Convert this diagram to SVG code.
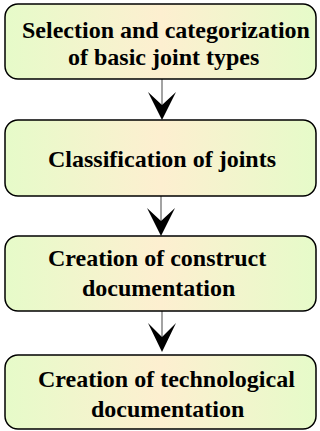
<svg xmlns="http://www.w3.org/2000/svg" width="320" height="431" viewBox="0 0 320 431">
<style>
.box{stroke:#000;stroke-width:1.5;fill:url(#g)}
.t{font-family:"Liberation Serif","Times New Roman",serif;font-weight:bold;font-size:24px;fill:#000}
.c{stroke:#666;stroke-width:1.2;fill:none}
.h{fill:#000;stroke:none}
</style>
<defs>
<linearGradient id="g" x1="0" y1="0" x2="1" y2="0">
<stop offset="0" stop-color="#e6fbc9"/>
<stop offset="0.5" stop-color="#fdefd0"/>
<stop offset="1" stop-color="#e6fbc9"/>
</linearGradient>
</defs>
<g id="connectors">
<line class="c" x1="162" y1="79" x2="162" y2="112"/>
<path class="h" d="M162,120 L148,92 L162,105 L176,92 Z"/>
<line class="c" x1="161" y1="196" x2="161" y2="228"/>
<path class="h" d="M161,236 L147,208 L161,221 L175,208 Z"/>
<line class="c" x1="162" y1="311" x2="162" y2="344"/>
<path class="h" d="M162,352 L148,323 L162,337 L176,323 Z"/>
</g>
<g id="n1">
<rect class="box" x="5" y="4" width="311" height="75" rx="13"/>
<text class="t" x="22" y="38">Selection and categorization</text>
<text class="t" x="68" y="65">of basic joint types</text>
</g>
<g id="n2">
<rect class="box" x="5" y="120" width="311" height="76" rx="13"/>
<text class="t" x="48" y="167">Classification of joints</text>
</g>
<g id="n3">
<rect class="box" x="5" y="236" width="311" height="75" rx="13"/>
<text class="t" x="48" y="265.5">Creation of construct</text>
<text class="t" x="82" y="295.5">documentation</text>
</g>
<g id="n4">
<rect class="box" x="5" y="355" width="311" height="74" rx="13"/>
<text class="t" x="38" y="386.5">Creation of technological</text>
<text class="t" x="91" y="417">documentation</text>
</g>
</svg>
